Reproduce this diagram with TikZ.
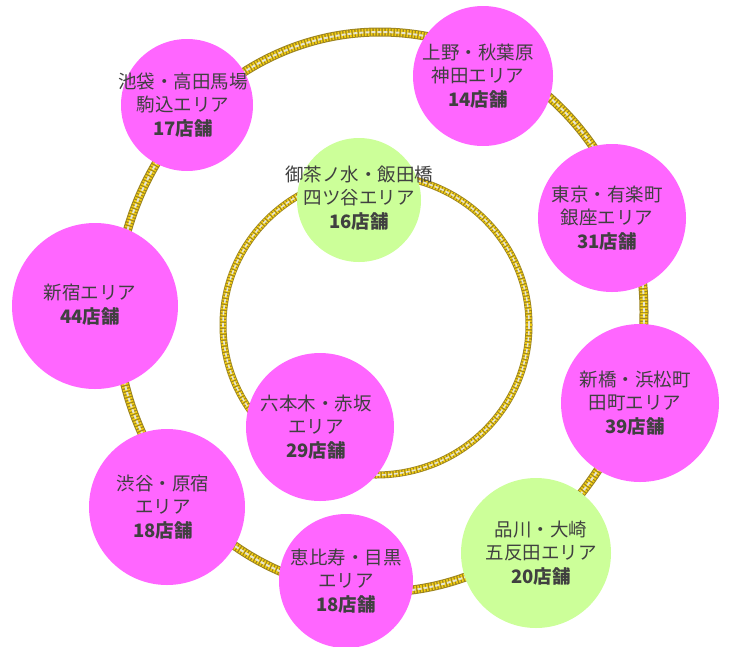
\documentclass[tikz,border=0pt]{standalone}
\usepackage{fontspec}
\newfontfamily\cjk{Noto Sans CJK JP}
\definecolor{ropedark}{HTML}{9C8420}
\definecolor{ropegold}{HTML}{F5CF10}
\definecolor{ropelight}{HTML}{E6E4D2}
\definecolor{pinkc}{HTML}{FF66FF}
\definecolor{greenc}{HTML}{CCFF99}
\definecolor{txt}{HTML}{404040}
\tikzset{
  ropebase/.style={line width=9pt, draw=ropedark},
  ropehi/.style={line width=7pt, draw=ropegold, dash pattern=on 1.6pt off 1.4pt},
  ropeline/.style={line width=2pt, draw=ropelight, dash pattern=on 4pt off 2pt},
  disc/.style={circle, inner sep=0pt},
  pinkarea/.style={disc, fill=pinkc},
  greenarea/.style={disc, fill=greenc},
  areatext/.style={inner sep=0pt, text=txt, align=center,
    font=\cjk\fontsize{18.5}{23.5}\selectfont}
}
\begin{document}
\begin{tikzpicture}[x=1pt,y=-1pt]
\useasboundingbox (0,0) rectangle (733,646);
% outer ring
\draw[ropebase] (380,312) ellipse [x radius=264pt, y radius=280pt];
\draw[ropehi] (380,312) ellipse [x radius=264pt, y radius=280pt];
\draw[ropeline] (380,312) ellipse [x radius=264pt, y radius=280pt];
% inner ring
\draw[ropebase, line width=7pt] (376,325) ellipse [x radius=153pt, y radius=150pt];
\draw[ropehi, line width=5.5pt] (376,325) ellipse [x radius=153pt, y radius=150pt];
\draw[ropeline, line width=1.6pt] (376,325) ellipse [x radius=153pt, y radius=150pt];
% areas
\node[pinkarea, minimum size=132pt] (ikebukuro) at (187,105) {};
\node[areatext] (ikebukuro-t) at ([xshift=-4pt]ikebukuro.center) {池袋・高田馬場\\駒込エリア\\\textbf{17店舗}};
\node[pinkarea, minimum size=140pt] (ueno) at (483,76) {};
\node[areatext] (ueno-t) at ([xshift=-5pt]ueno.center) {上野・秋葉原\\神田エリア\\\textbf{14店舗}};
\node[pinkarea, minimum size=148pt] (tokyo) at (612,218) {};
\node[areatext] (tokyo-t) at ([xshift=-5pt]tokyo.center) {東京・有楽町\\銀座エリア\\\textbf{31店舗}};
\node[pinkarea, minimum size=158pt] (shimbashi) at (640,403) {};
\node[areatext] (shimbashi-t) at ([xshift=-5pt]shimbashi.center) {新橋・浜松町\\田町エリア\\\textbf{39店舗}};
\node[greenarea, minimum size=150pt] (shinagawa) at (536,553) {};
\node[areatext] (shinagawa-t) at ([xshift=5pt]shinagawa.center) {品川・大崎\\五反田エリア\\\textbf{20店舗}};
\node[pinkarea, minimum size=134pt] (ebisu) at (346,581) {};
\node[areatext] (ebisu-t) at (ebisu.center) {恵比寿・目黒\\エリア\\\textbf{18店舗}};
\node[pinkarea, minimum size=156pt] (shibuya) at (167,507) {};
\node[areatext] (shibuya-t) at ([xshift=-4pt]shibuya.center) {渋谷・原宿\\エリア\\\textbf{18店舗}};
\node[pinkarea, minimum size=166pt] (shinjuku) at (95,306) {};
\node[areatext] (shinjuku-t) at ([xshift=-5pt,yshift=1.5pt]shinjuku.center) {新宿エリア\\\textbf{44店舗}};
\node[pinkarea, minimum size=148pt] (roppongi) at (320,427) {};
\node[areatext] (roppongi-t) at ([xshift=-4pt]roppongi.center) {六本木・赤坂\\エリア\\\textbf{29店舗}};
\node[greenarea, minimum size=124pt] (ochanomizu) at (359,200) {};
\node[areatext] (ochanomizu-t) at ([yshift=2pt]ochanomizu.center) {御茶ノ水・飯田橋\\四ツ谷エリア\\\textbf{16店舗}};
\end{tikzpicture}
\end{document}
